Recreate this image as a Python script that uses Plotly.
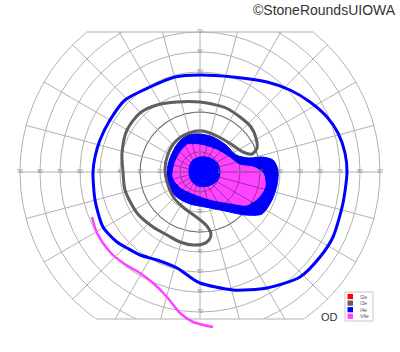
import numpy as np
import plotly.graph_objects as go

# ---------------- data ----------------
title_text = "©StoneRoundsUIOWA"
eye_label = "OD"

circle_ecc = [10, 20, 30, 40, 50, 60, 70, 80, 90]
meridians = list(range(0, 360, 15))
upper_limit = 70
lower_limit = -73.5
h_ticks = [10, 20, 30, 40, 50, 60, 70, 80, 90]
v_ticks = [10, 20, 30, 40, 50, 60, 70]

series_names = ["I2e", "I3e", "I4e", "V4e"]
series_colors = ["#ff0000", "#5f5f5f", "#0000ff", "#ff44ff"]

# I4e outer isopter (degrees, x = horizontal, y = vertical)
i4e_outer_x = [0, 16.5, 33.5, 45, 55, 63.5, 69, 72.5, 73.5, 71.5, 66.5, 60, 50, 33.5, 16.5, 0,
               -5, -11.5, -21.5, -30, -36.5, -41.5, -48.5, -52.5, -53.5, -52.5, -50, -45,
               -37.5, -25, -12.5, 0]
i4e_outer_y = [48.5, 47.5, 45, 41, 35, 27.5, 19.5, 9.5, 0, -15.5, -32.5, -42.5, -52.5, -58, -59, -55.5,
               -52.5, -48, -44, -41.5, -38, -35, -27.5, -14, 0, 7.5, 16, 26,
               36, 42.5, 47.5, 48.5]

# I3e isopter (C-shaped closed band)
i3e_x = [28.5, 28, 25.5, 20, 13, 6, 0, -11.5, -21.5, -30, -36.5, -39, -38.5, -37.5, -31.5, -23.5,
         -16.5, -10, -3.5, 1.5, 4.5, 5.5, 3, -2.5, -8, -13, -16, -17.5, -16, -12, -5.5, 1.5,
         8.5, 15.5, 21.5, 26, 28.5]
i3e_y = [12, 17, 22.5, 27.5, 32, 34, 35, 35, 33.5, 29.5, 21, 9.5, 0, -9, -20.5, -27.5,
         -31.5, -35, -36.5, -36, -34, -31, -26.5, -22, -18, -13, -6.5, 1, 9, 15.5, 19.5, 20.5,
         18, 14, 10, 9, 12]

# I4e central filled area
i4e_area_x = [-6, 0, 6.5, 13, 18, 25, 31, 36.5, 39, 38.5, 36, 31, 22.5, 12.5, 2.5, -5, -11,
              -15.5, -16.5, -15, -11, -6]
i4e_area_y = [18.5, 19, 17.5, 13.5, 8.5, 7, 7.5, 6, 1, -6.5, -14, -21, -21.5, -19.5, -17.5, -16,
              -13, -8, 0, 7, 14.5, 18.5]

# V4e central filled area
v4e_area_x = [-6.5, 0, 8.5, 15, 20, 26.5, 31.5, 32.5, 29, 23.5, 15, 6.5, -1.5, -10, -13.5,
              -12.5, -10, -6.5]
v4e_area_y = [13.5, 13.5, 11, 7, 3.5, 2.5, -0.5, -7.5, -13, -16.5, -15.5, -14, -11.5, -7.5,
              -2.5, 4.5, 9.5, 13.5]

# central I4e spot
i4e_spot_x = [-5.5, -4, 0, 5, 8.5, 10, 8.5, 4, -1, -4.5, -5.5]
i4e_spot_y = [1, 5.5, 7.5, 7, 4.5, 0, -4.5, -7, -7, -4, 1]

# V4e partial isopter (inferior-nasal)
v4e_line_x = [-54, -51.5, -45, -38.5, -30, -23.5, -16.5, -10, -3.5, 6.5]
v4e_line_y = [-22.5, -30.5, -40, -45.5, -50.5, -55.5, -62.5, -70.5, -75, -77.5]

# ---------------- helpers ----------------
def inside(px, py, polx, poly):
    px = np.asarray(px, float)
    py = np.asarray(py, float)
    res = np.zeros(px.shape, bool)
    n = len(polx)
    j = n - 1
    for i in range(n):
        xi, yi, xj, yj = polx[i], poly[i], polx[j], poly[j]
        denom = (yj - yi) if (yj - yi) != 0 else 1e-9
        cond = ((yi > py) != (yj > py)) & (px < (xj - xi) * (py - yi) / denom + xi)
        res ^= cond
        j = i
    return res


def clip(x, y):
    x = np.array(x, float)
    y = np.array(y, float)
    bad = (y > upper_limit + 1e-9) | (y < lower_limit - 1e-9)
    x[bad] = np.nan
    y[bad] = np.nan
    return x, y


fig = go.Figure()

# grid: circles
grid_color = "#b2b2b2"
all_gx, all_gy = [], []
for r in circle_ecc:
    t = np.radians(np.linspace(0, 360, 721))
    cx, cy = clip(r * np.cos(t), r * np.sin(t))
    fig.add_trace(go.Scatter(x=cx, y=cy, mode="lines",
                             line=dict(color="#6e6e6e" if r == 30 else grid_color,
                                       width=1.1 if r == 30 else 1),
                             hoverinfo="skip"))
    all_gx.append(cx)
    all_gy.append(cy)

# grid: meridians
for a in meridians:
    s = np.sin(np.radians(a))
    rmax = max(circle_ecc)
    if s > 1e-9:
        rmax = min(rmax, upper_limit / s)
    elif s < -1e-9:
        rmax = min(rmax, -lower_limit / -s)
    rr = np.linspace(0, rmax, 200)
    mx = rr * np.cos(np.radians(a))
    my = rr * np.sin(np.radians(a))
    fig.add_trace(go.Scatter(x=mx, y=my, mode="lines",
                             line=dict(color=grid_color, width=1), hoverinfo="skip"))
    all_gx.append(mx)
    all_gy.append(my)

# top / bottom limits
rmax = max(circle_ecc)
for lim in (upper_limit, lower_limit):
    half = np.sqrt(rmax ** 2 - lim ** 2)
    fig.add_trace(go.Scatter(x=[-half, half], y=[lim, lim], mode="lines",
                             line=dict(color=grid_color, width=1), hoverinfo="skip"))

# filled central fields
fig.add_trace(go.Scatter(x=i4e_area_x, y=i4e_area_y, mode="lines", fill="toself",
                         fillcolor=series_colors[2], line=dict(color=series_colors[2], width=1,
                                                               shape="spline", smoothing=0.8),
                         hoverinfo="skip"))
fig.add_trace(go.Scatter(x=v4e_area_x, y=v4e_area_y, mode="lines", fill="toself",
                         fillcolor=series_colors[3], line=dict(color=series_colors[3], width=1,
                                                               shape="spline", smoothing=0.8),
                         hoverinfo="skip"))

# grid seen through the filled areas
for gx, gy in zip(all_gx, all_gy):
    ok = ~np.isnan(gx)
    in_v = np.zeros(gx.shape, bool)
    in_b = np.zeros(gx.shape, bool)
    in_v[ok] = inside(gx[ok], gy[ok], v4e_area_x, v4e_area_y)
    in_b[ok] = inside(gx[ok], gy[ok], i4e_area_x, i4e_area_y)
    vx = np.where(in_v, gx, np.nan)
    vy = np.where(in_v, gy, np.nan)
    bx = np.where(in_b & ~in_v, gx, np.nan)
    by = np.where(in_b & ~in_v, gy, np.nan)
    fig.add_trace(go.Scatter(x=vx, y=vy, mode="lines",
                             line=dict(color="#a52aa5", width=1), hoverinfo="skip"))
    fig.add_trace(go.Scatter(x=bx, y=by, mode="lines",
                             line=dict(color="#0000b0", width=1), hoverinfo="skip"))

fig.add_trace(go.Scatter(x=i4e_spot_x, y=i4e_spot_y, mode="lines", fill="toself",
                         fillcolor=series_colors[2], line=dict(color=series_colors[2], width=1,
                                                               shape="spline", smoothing=1),
                         hoverinfo="skip"))

# isopter lines
fig.add_trace(go.Scatter(x=i3e_x, y=i3e_y, mode="lines",
                         line=dict(color=series_colors[1], width=3, shape="spline", smoothing=0.8),
                         hoverinfo="skip"))
fig.add_trace(go.Scatter(x=i4e_outer_x, y=i4e_outer_y, mode="lines",
                         line=dict(color=series_colors[2], width=3, shape="spline", smoothing=0.7),
                         hoverinfo="skip"))
fig.add_trace(go.Scatter(x=v4e_line_x, y=v4e_line_y, mode="lines",
                         line=dict(color=series_colors[3], width=2.5, shape="spline", smoothing=0.8),
                         hoverinfo="skip"))

# eccentricity labels
lab_x = [-v for v in h_ticks] + h_ticks + [0] * len(v_ticks) * 2
lab_y = [0] * len(h_ticks) * 2 + v_ticks + [-v for v in v_ticks]
lab_t = [str(v) for v in h_ticks] * 2 + [str(v) for v in v_ticks] * 2
fig.add_trace(go.Scatter(x=lab_x, y=lab_y, mode="text", text=lab_t,
                         textfont=dict(size=5, color="#8a8a8a", family="Liberation Sans"),
                         hoverinfo="skip"))

# legend box (paper coords)
W, H = 400, 352
def px(x):
    return x / W
def py(y):
    return 1 - y / H

shapes = [dict(type="rect", xref="paper", yref="paper", x0=px(345), x1=px(373),
               y0=py(321), y1=py(292), line=dict(color="#c8c8c8", width=1), fillcolor="white")]
annotations = []
for i, (nm, col) in enumerate(zip(series_names, series_colors)):
    yc = 296.5 + i * 6.6
    shapes.append(dict(type="rect", xref="paper", yref="paper", x0=px(347.5), x1=px(353),
                       y0=py(yc + 2.6), y1=py(yc - 2.6), line=dict(width=0), fillcolor=col))
    annotations.append(dict(xref="paper", yref="paper", x=px(358), y=py(yc), text=nm,
                            showarrow=False, xanchor="left", yanchor="middle",
                            font=dict(size=5, color="#555555", family="Liberation Sans")))

annotations.append(dict(xref="paper", yref="paper", x=px(329), y=py(317), text=eye_label,
                        showarrow=False, xanchor="center", yanchor="middle",
                        font=dict(size=11, color="#333333", family="Liberation Sans")))
annotations.append(dict(xref="paper", yref="paper", x=px(398), y=py(10), text=title_text,
                        showarrow=False, xanchor="right", yanchor="middle",
                        font=dict(size=14, color="#333333", family="Liberation Sans")))

fig.update_layout(
    width=W, height=H, margin=dict(l=0, r=0, t=0, b=0),
    paper_bgcolor="white", plot_bgcolor="white", showlegend=False,
    xaxis=dict(range=[-100, 100], visible=False, fixedrange=True),
    yaxis=dict(range=[-90, 86], visible=False, fixedrange=True),
    shapes=shapes, annotations=annotations,
)

fig.write_html("out.html")
